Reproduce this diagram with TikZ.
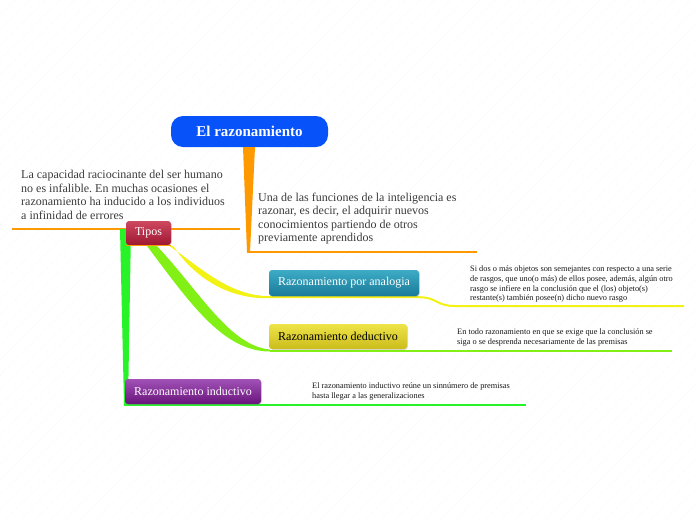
\documentclass[tikz,border=0pt]{standalone}
\usepackage{fontspec}
\setmainfont{Liberation Serif}
\usetikzlibrary{shadows}
\frenchspacing
\definecolor{rootblue}{RGB}{8,82,250}
\definecolor{orangeb}{RGB}{255,153,0}
\definecolor{tealtop}{RGB}{62,172,198}
\definecolor{tealbot}{RGB}{24,122,152}
\definecolor{yeltop}{RGB}{238,228,72}
\definecolor{yelbot}{RGB}{204,188,28}
\definecolor{purtop}{RGB}{162,82,182}
\definecolor{purbot}{RGB}{104,20,124}
\definecolor{redtop}{RGB}{206,72,96}
\definecolor{redbot}{RGB}{158,24,50}
\definecolor{yline}{RGB}{242,242,20}
\definecolor{cline}{RGB}{130,240,20}
\definecolor{gline}{RGB}{40,242,40}
\definecolor{bigtext}{RGB}{58,58,58}
\definecolor{smalltext}{RGB}{22,22,22}
\begin{document}
\begin{tikzpicture}[x=1pt,y=-1pt,
  bgline/.style={black!6,line width=0.3pt,dash pattern=on 2pt off 1.5pt},
  subbox/.style={rectangle,rounded corners=3pt,minimum height=25pt,inner sep=0pt,
    font=\fontsize{12}{14}\selectfont,
    drop shadow={opacity=0.3,shadow xshift=0.8pt,shadow yshift=-0.8pt}},
  bigtxt/.style={anchor=north west,inner sep=0pt,align=left,text=bigtext,
    font=\fontsize{12}{13.5}\selectfont},
  smalltxt/.style={anchor=north west,inner sep=0pt,align=left,text=smalltext,
    font=\fontsize{8.3}{9.6}\selectfont}]
\useasboundingbox (0,0) rectangle (696,520);
\begin{scope}
\clip (0,0) rectangle (696,520);
\foreach \c in {0,15,...,1215} \draw[bgline] (\c,0) -- (\c-520,520);
\end{scope}

% named points
\coordinate (oTL) at (243,147);
\coordinate (oTR) at (255,147);
\coordinate (oBR) at (250,252.3);
\coordinate (oBL) at (247,252.3);
\coordinate (oEnd) at (477,252.3);
\coordinate (lStart) at (12,229);
\coordinate (lEnd) at (240,229);
\coordinate (gTL) at (120,229);
\coordinate (gTR) at (131,229);
\coordinate (gBR) at (128,405);
\coordinate (gBL) at (124,405);
\coordinate (gEnd) at (526,405);
\coordinate (dEnd) at (672,350.5);
\coordinate (aEnd) at (684,306);

% nodes
\node[rectangle,rounded corners=12pt,fill=rootblue,minimum width=157pt,minimum height=31pt,
  inner sep=0pt,text=white,font=\fontsize{15}{17}\selectfont\bfseries] (root) at (249.5,131.5) {El razonamiento};

% orange branch from root
\fill[orangeb] (oTL) -- (oTR) -- (oBR) -- (oBL) -- cycle;
\draw[orangeb,line width=2pt] (oBL) -- (oEnd);
\draw[orangeb,line width=1.6pt] (lStart) -- (lEnd);

% green branch (inductivo)
\fill[gline] (gTL) -- (gTR) -- (gBR) -- (gBL) -- cycle;
\draw[gline,line width=2pt] (gBL) -- (gEnd);

% chartreuse branch (deductivo)
\fill[cline] (147,246) .. controls (188,300) and (222,351.5) .. (270,351.5)
  -- (270,349.5) .. controls (230,346) and (200,292) .. (157,246) -- cycle;
\draw[cline,line width=2pt] (270,350.5) -- (dEnd);

% yellow branch (analogia)
\fill[yline] (165,243) .. controls (198,265) and (228,296.2) .. (270,296.2)
  -- (270,298.2) .. controls (225,299.5) and (192,274) .. (174,247) -- cycle;
\draw[yline,line width=2pt] (270,297.2) -- (419,297.2) .. controls (437,297.2) and (436,306) .. (455,306) -- (aEnd);

\node[subbox,top color=redtop,bottom color=redbot,minimum width=45pt,minimum height=24pt,text=white] (tipos) at (148.5,233) {Tipos};
\draw[orangeb,line width=0.8pt] (tipos.south west) -- (tipos.south east);

\node[subbox,top color=tealtop,bottom color=tealbot,minimum width=150pt,minimum height=26pt,text=white] (ana) at (344,283) {Razonamiento por analogia};
\node[subbox,top color=yeltop,bottom color=yelbot,minimum width=138pt,text=black] (ded) at (338,336.5) {Razonamiento deductivo};
\node[subbox,top color=purtop,bottom color=purbot,minimum width=136pt,text=white] (ind) at (193,391.5) {Razonamiento inductivo};

% texts
\node[bigtxt] (tleft) at (21,170.1) {La capacidad raciocinante del ser humano\\no es infalible. En muchas ocasiones el\\razonamiento ha inducido a los individuos\\a infinidad de errores};
\node[bigtxt] (tright) at (258,192.5) {Una de las funciones de la inteligencia es\\razonar, es decir, el adquirir nuevos\\conocimientos partiendo de otros\\previamente aprendidos};
\node[smalltxt] (tana) at (470,266) {Si dos o más objetos son semejantes con respecto a una serie\\de rasgos, que uno(o más) de ellos posee, además, algún otro\\rasgo se infiere en la conclusión que el (los) objeto(s)\\restante(s) también posee(n) dicho nuevo rasgo};
\node[smalltxt] (tded) at (457,328.6) {En todo razonamiento en que se exige que la conclusión se\\siga o se desprenda necesariamente de las premisas};
\node[smalltxt] (tind) at (312,382.6) {El razonamiento inductivo reúne un sinnúmero de premisas\\hasta llegar a las generalizaciones};
\end{tikzpicture}
\end{document}
